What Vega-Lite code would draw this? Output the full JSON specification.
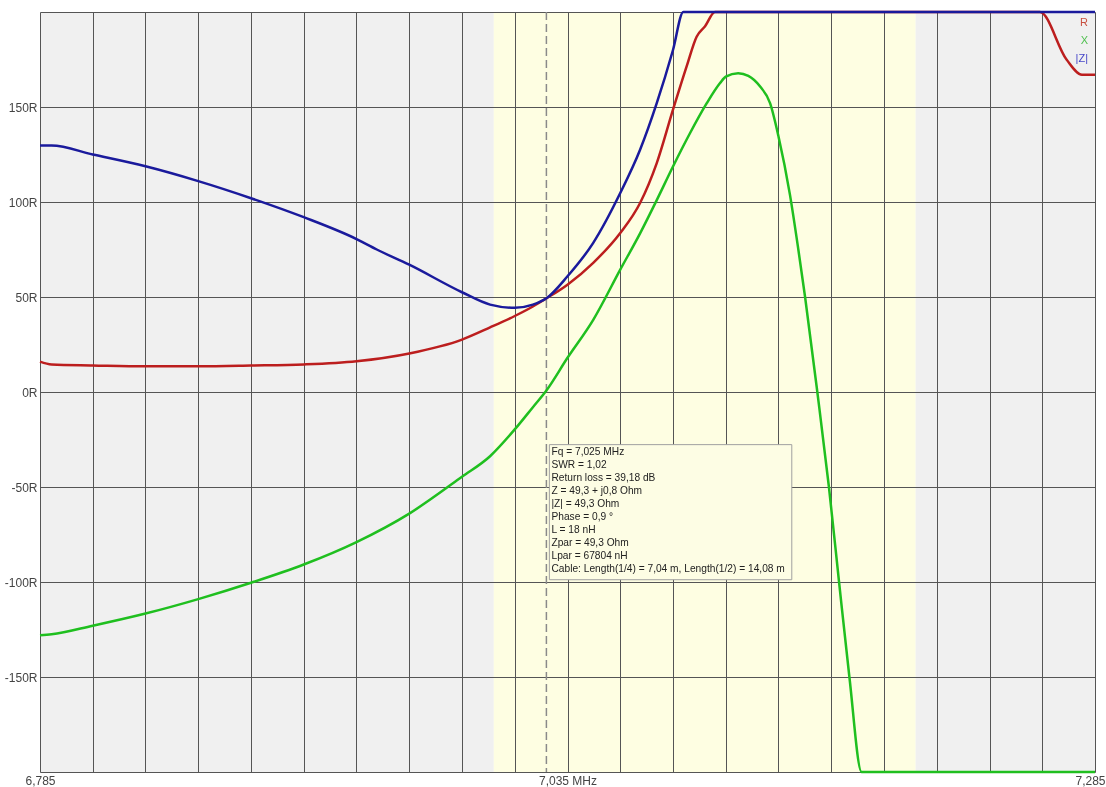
{
  "$schema": "https://vega.github.io/schema/vega-lite/v6.json",
  "width": 1055,
  "height": 760,
  "autosize": "none",
  "padding": {"left": 40, "top": 12, "right": 11, "bottom": 15},
  "background": "white",
  "config": {"view": {"stroke": null, "fill": "white"}},
  "data": {"values": [{}]},
  "datasets": {
    "curves": [
      {"f": 6.785, "v": 16, "s": "R"},
      {"f": 6.7905, "v": 14.5, "s": "R"},
      {"f": 6.81, "v": 14, "s": "R"},
      {"f": 6.835, "v": 13.5, "s": "R"},
      {"f": 6.86, "v": 13.5, "s": "R"},
      {"f": 6.885, "v": 13.9, "s": "R"},
      {"f": 6.91, "v": 14.5, "s": "R"},
      {"f": 6.935, "v": 16.2, "s": "R"},
      {"f": 6.96, "v": 20.3, "s": "R"},
      {"f": 6.985, "v": 27.6, "s": "R"},
      {"f": 6.9983, "v": 34, "s": "R"},
      {"f": 7.01, "v": 40, "s": "R"},
      {"f": 7.0186, "v": 45, "s": "R"},
      {"f": 7.025, "v": 49.3, "s": "R"},
      {"f": 7.035, "v": 56.5, "s": "R"},
      {"f": 7.0472, "v": 68, "s": "R"},
      {"f": 7.06, "v": 83.7, "s": "R"},
      {"f": 7.0694, "v": 99.5, "s": "R"},
      {"f": 7.0773, "v": 120.5, "s": "R"},
      {"f": 7.085, "v": 148.6, "s": "R"},
      {"f": 7.0915, "v": 171.5, "s": "R"},
      {"f": 7.0962, "v": 187, "s": "R"},
      {"f": 7.1002, "v": 192.5, "s": "R"},
      {"f": 7.1049, "v": 200, "s": "R"},
      {"f": 7.2589, "v": 200, "s": "R"},
      {"f": 7.2715, "v": 175, "s": "R"},
      {"f": 7.2788, "v": 167, "s": "R"},
      {"f": 7.285, "v": 167, "s": "R"},
      {"f": 6.785, "v": -128, "s": "X"},
      {"f": 6.7905, "v": -127.5, "s": "X"},
      {"f": 6.81, "v": -123, "s": "X"},
      {"f": 6.835, "v": -116.6, "s": "X"},
      {"f": 6.86, "v": -109, "s": "X"},
      {"f": 6.885, "v": -100.4, "s": "X"},
      {"f": 6.91, "v": -90.8, "s": "X"},
      {"f": 6.935, "v": -79, "s": "X"},
      {"f": 6.96, "v": -64, "s": "X"},
      {"f": 6.985, "v": -44.6, "s": "X"},
      {"f": 6.9983, "v": -33.8, "s": "X"},
      {"f": 7.01, "v": -19.7, "s": "X"},
      {"f": 7.0186, "v": -8, "s": "X"},
      {"f": 7.025, "v": 0.8, "s": "X"},
      {"f": 7.035, "v": 18, "s": "X"},
      {"f": 7.0472, "v": 38, "s": "X"},
      {"f": 7.06, "v": 64.4, "s": "X"},
      {"f": 7.0694, "v": 83.5, "s": "X"},
      {"f": 7.0773, "v": 101, "s": "X"},
      {"f": 7.085, "v": 118.7, "s": "X"},
      {"f": 7.0931, "v": 136.3, "s": "X"},
      {"f": 7.101, "v": 152, "s": "X"},
      {"f": 7.1073, "v": 162.6, "s": "X"},
      {"f": 7.11, "v": 166, "s": "X"},
      {"f": 7.1159, "v": 167.8, "s": "X"},
      {"f": 7.1207, "v": 166.4, "s": "X"},
      {"f": 7.1262, "v": 160.9, "s": "X"},
      {"f": 7.131, "v": 152, "s": "X"},
      {"f": 7.135, "v": 134.5, "s": "X"},
      {"f": 7.1404, "v": 104, "s": "X"},
      {"f": 7.1444, "v": 75, "s": "X"},
      {"f": 7.1476, "v": 50, "s": "X"},
      {"f": 7.1534, "v": 0, "s": "X"},
      {"f": 7.1589, "v": -50, "s": "X"},
      {"f": 7.1637, "v": -100, "s": "X"},
      {"f": 7.1686, "v": -150, "s": "X"},
      {"f": 7.1744, "v": -200, "s": "X"},
      {"f": 7.285, "v": -200, "s": "X"},
      {"f": 6.785, "v": 129.7, "s": "|Z|"},
      {"f": 6.7905, "v": 129.7, "s": "|Z|"},
      {"f": 6.81, "v": 125, "s": "|Z|"},
      {"f": 6.835, "v": 118.8, "s": "|Z|"},
      {"f": 6.86, "v": 111, "s": "|Z|"},
      {"f": 6.885, "v": 102, "s": "|Z|"},
      {"f": 6.91, "v": 92, "s": "|Z|"},
      {"f": 6.935, "v": 80.5, "s": "|Z|"},
      {"f": 6.9446, "v": 75, "s": "|Z|"},
      {"f": 6.96, "v": 67, "s": "|Z|"},
      {"f": 6.985, "v": 52.5, "s": "|Z|"},
      {"f": 6.9983, "v": 46, "s": "|Z|"},
      {"f": 7.01, "v": 44.3, "s": "|Z|"},
      {"f": 7.0186, "v": 46, "s": "|Z|"},
      {"f": 7.025, "v": 49.3, "s": "|Z|"},
      {"f": 7.035, "v": 60.9, "s": "|Z|"},
      {"f": 7.0472, "v": 78.5, "s": "|Z|"},
      {"f": 7.06, "v": 104.7, "s": "|Z|"},
      {"f": 7.0694, "v": 127.5, "s": "|Z|"},
      {"f": 7.0773, "v": 152, "s": "|Z|"},
      {"f": 7.085, "v": 180, "s": "|Z|"},
      {"f": 7.0899, "v": 200, "s": "|Z|"},
      {"f": 7.285, "v": 200, "s": "|Z|"}
    ]
  },
  "layer": [
    {
      "mark": {"type": "rect", "color": "#f0f0f0", "blend": "darken"},
      "encoding": {"x": {"datum": 6.785, "title": null}, "x2": {"datum": 7.0}}
    },
    {
      "mark": {"type": "rect", "color": "#fefee2", "blend": "darken"},
      "encoding": {"x": {"datum": 7.0, "title": null}, "x2": {"datum": 7.2}}
    },
    {
      "mark": {"type": "rect", "color": "#f0f0f0", "blend": "darken"},
      "encoding": {"x": {"datum": 7.2, "title": null}, "x2": {"datum": 7.285}}
    },
    {
      "mark": {"type": "rule", "color": "#8a8a8a", "strokeDash": [8, 4], "strokeWidth": 1.5},
      "encoding": {"x": {"datum": 7.025, "title": null}}
    },
    {
      "data": {"name": "curves"},
      "mark": {"type": "line", "strokeWidth": 2.5, "interpolate": "monotone"},
      "encoding": {
        "x": {
          "field": "f",
          "type": "quantitative",
          "title": null,
          "scale": {"domain": [6.785, 7.285], "nice": false, "zero": false},
          "axis": {
            "values": [6.785, 6.81, 6.835, 6.86, 6.885, 6.91, 6.935, 6.96, 6.985, 7.01, 7.035, 7.06, 7.085, 7.11, 7.135, 7.16, 7.185, 7.21, 7.235, 7.26, 7.285],
            "labelExpr": "abs(datum.value-6.785)<0.001 ? '6,785' : abs(datum.value-7.035)<0.001 ? '7,035 MHz' : abs(datum.value-7.285)<0.001 ? '7,285' : ''",
            "labelAlign": {"expr": "datum.value > 7.28 ? 'right' : 'center'"},
            "labelOffset": {"expr": "datum.value > 7.28 ? 10 : 0"},
            "grid": true,
            "gridColor": "#555555",
            "gridWidth": 1,
            "gridOpacity": 1,
            "domain": false,
            "ticks": false,
            "labelFont": "Liberation Sans",
            "labelFontSize": 12,
            "labelColor": "#444444",
            "labelPadding": 3,
            "labelOverlap": false,
            "labelFlush": false
          }
        },
        "y": {
          "field": "v",
          "type": "quantitative",
          "title": null,
          "scale": {"domain": [-200, 200], "nice": false, "zero": false},
          "axis": {
            "values": [-200, -150, -100, -50, 0, 50, 100, 150, 200],
            "labelExpr": "abs(datum.value) >= 200 ? '' : datum.value + 'R'",
            "grid": true,
            "gridColor": "#555555",
            "gridWidth": 1,
            "gridOpacity": 1,
            "domain": false,
            "ticks": false,
            "labelFont": "Liberation Sans",
            "labelFontSize": 12,
            "labelColor": "#444444",
            "labelPadding": 3,
            "labelOverlap": false,
            "labelFlush": false
          }
        },
        "color": {
          "field": "s",
          "type": "nominal",
          "scale": {"domain": ["R", "X", "|Z|"], "range": ["#bc1e1e", "#1fbf1f", "#1a1a9c"]},
          "legend": null
        }
      }
    },
    {
      "mark": {"type": "rect", "fill": "#fdfde4", "stroke": "#a0a0a0", "strokeWidth": 1},
      "encoding": {
        "x": {"datum": 7.0264, "title": null},
        "x2": {"datum": 7.1413},
        "y": {"datum": -27.7, "title": null},
        "y2": {"datum": -98.8}
      }
    },
    {
      "mark": {
        "type": "text",
        "text": ["Fq = 7,025 MHz", "SWR = 1,02", "Return loss = 39,18 dB", "Z = 49,3 + j0,8 Ohm", "|Z| = 49,3 Ohm", "Phase = 0,9 °", "L = 18 nH", "Zpar = 49,3 Ohm", "Lpar = 67804 nH", "Cable: Length(1/4) = 7,04 m, Length(1/2) = 14,08 m"],
        "align": "left",
        "baseline": "top",
        "font": "Liberation Sans",
        "fontSize": 10.2,
        "lineHeight": 13,
        "color": "#222222"
      },
      "encoding": {"x": {"datum": 7.0274, "title": null}, "y": {"datum": -29.0, "title": null}}
    },
    {
      "mark": {"type": "text", "text": "R", "align": "right", "baseline": "middle", "font": "Liberation Sans", "fontSize": 11, "color": "#c85040"},
      "encoding": {"x": {"datum": 7.2817, "title": null}, "y": {"datum": 194.4, "title": null}}
    },
    {
      "mark": {"type": "text", "text": "X", "align": "right", "baseline": "middle", "font": "Liberation Sans", "fontSize": 11, "color": "#50c050"},
      "encoding": {"x": {"datum": 7.2817, "title": null}, "y": {"datum": 184.9, "title": null}}
    },
    {
      "mark": {"type": "text", "text": "|Z|", "align": "right", "baseline": "middle", "font": "Liberation Sans", "fontSize": 11, "color": "#4646c8"},
      "encoding": {"x": {"datum": 7.2817, "title": null}, "y": {"datum": 175.4, "title": null}}
    }
  ]
}
